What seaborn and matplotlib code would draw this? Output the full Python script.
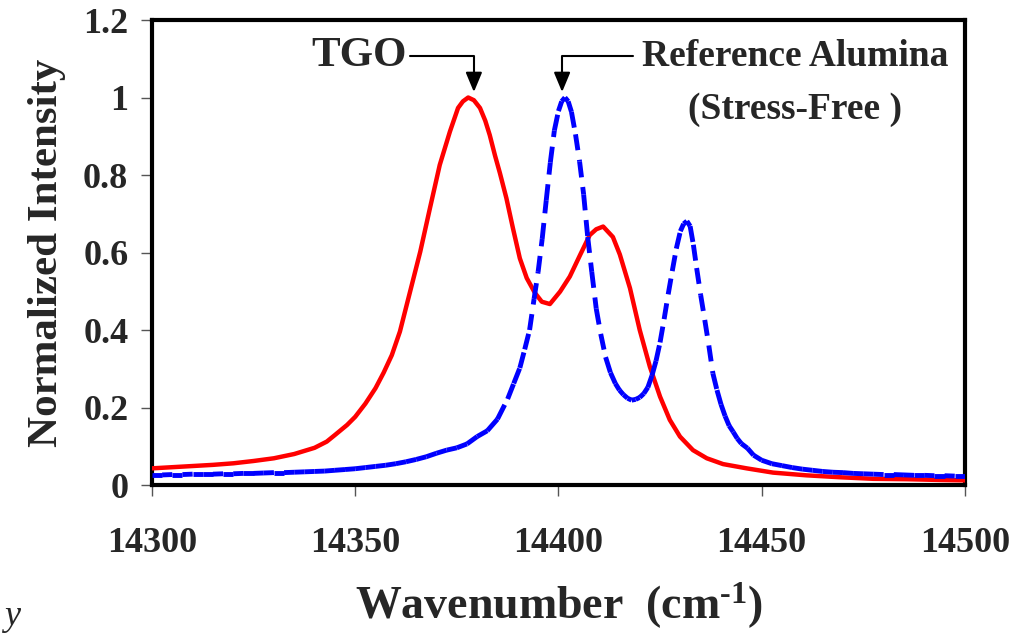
import matplotlib
matplotlib.use("Agg")
import matplotlib.pyplot as plt
import numpy as np
import pandas as pd
import seaborn as sns
from matplotlib.collections import LineCollection

# TGO spectrum (red, solid)
tgo_wavenumber = [
    14300, 14305, 14310, 14315, 14320, 14325, 14330, 14335, 14340, 14343,
    14345, 14348, 14350, 14352.5, 14355, 14357, 14359, 14361, 14363.5, 14366,
    14368.4, 14370.8, 14373.3, 14375.3, 14376.5, 14377.8, 14379.2, 14380.7,
    14382, 14383.1, 14384.4, 14385.6, 14387.2, 14388.8, 14390.5, 14392.2,
    14394.2, 14395.9, 14397.9, 14400.4, 14402.8, 14405.3, 14407.7, 14409.3,
    14411, 14413.4, 14415.1, 14417.6, 14420, 14422.5, 14425, 14427.4,
    14429.9, 14433.1, 14436.5, 14440.5, 14446.3, 14452.8, 14461, 14469.3,
    14477.4, 14485.7, 14493.9, 14500,
]
tgo_intensity = [
    0.043, 0.046, 0.049, 0.052, 0.056, 0.062, 0.069, 0.080, 0.096, 0.112,
    0.129, 0.155, 0.176, 0.210, 0.250, 0.290, 0.335, 0.396, 0.499, 0.602,
    0.715, 0.826, 0.912, 0.973, 0.990, 1.000, 0.993, 0.973,
    0.940, 0.903, 0.850, 0.805, 0.740, 0.663, 0.585, 0.534,
    0.496, 0.473, 0.467, 0.499, 0.538, 0.593, 0.645, 0.660,
    0.667, 0.640, 0.595, 0.508, 0.400, 0.305, 0.228, 0.168,
    0.125, 0.090, 0.069, 0.054, 0.043, 0.032, 0.025, 0.020,
    0.016, 0.015, 0.013, 0.012,
]

# Reference alumina spectrum (blue, dashed)
ref_wavenumber = [
    14300, 14302.5, 14305, 14307.5, 14310, 14312.5, 14315, 14317.5, 14320,
    14322.5, 14325, 14327.5, 14330, 14332.5, 14335, 14337.5, 14340, 14342.5,
    14345, 14347.5, 14350, 14352.5, 14355, 14357.5, 14360, 14362.5, 14365,
    14367.5, 14370, 14372.5, 14375, 14377.5, 14380, 14382.5, 14385, 14387.5,
    14389, 14390.5, 14391.7, 14392.9, 14394, 14395, 14396, 14397, 14398,
    14399, 14400, 14400.8, 14401.6, 14402.4, 14403.2, 14404.2, 14405.2,
    14406.2, 14407.2, 14408.2, 14409.3, 14410.4, 14411.6, 14412.8, 14414,
    14415, 14416, 14417, 14418, 14419, 14420, 14421, 14422, 14423, 14424,
    14425, 14426, 14427, 14428, 14429, 14430, 14430.8, 14431.6, 14432.4,
    14433.2, 14434, 14435, 14436, 14437, 14438, 14439, 14440, 14441, 14442,
    14443, 14444, 14445, 14446.5, 14448, 14450, 14452.5, 14455, 14457.5,
    14460, 14462.5, 14465, 14467.5, 14470, 14472.5, 14475, 14477.5, 14480,
    14482.5, 14485, 14487.5, 14490, 14492.5, 14495, 14497.5, 14500,
]
ref_intensity = [
    0.026, 0.026, 0.027, 0.027, 0.028, 0.028, 0.028, 0.029, 0.029,
    0.030, 0.030, 0.031, 0.032, 0.032, 0.033, 0.034, 0.035, 0.036,
    0.038, 0.040, 0.042, 0.045, 0.048, 0.051, 0.055, 0.060, 0.066,
    0.073, 0.082, 0.090, 0.096, 0.106, 0.125, 0.140, 0.170, 0.222,
    0.262, 0.302, 0.350, 0.400, 0.480, 0.550, 0.635, 0.735, 0.832,
    0.915, 0.965, 0.990, 1.000, 0.990, 0.963, 0.905, 0.835,
    0.750, 0.640, 0.550, 0.455, 0.390, 0.330, 0.290, 0.262,
    0.245, 0.233, 0.224, 0.219, 0.221, 0.226, 0.236, 0.252, 0.282, 0.320,
    0.368, 0.428, 0.492, 0.552, 0.610, 0.655, 0.674, 0.681, 0.668,
    0.620, 0.560, 0.490, 0.426, 0.360, 0.288, 0.245, 0.208, 0.178, 0.153,
    0.137, 0.120, 0.107, 0.095, 0.077, 0.064, 0.055, 0.050, 0.045,
    0.041, 0.038, 0.035, 0.033, 0.032, 0.030, 0.029, 0.028, 0.027,
    0.027, 0.026, 0.025, 0.025, 0.024, 0.024, 0.023, 0.023,
]

x_ticks = [14300, 14350, 14400, 14450, 14500]
x_tick_labels = ["14300", "14350", "14400", "14450", "14500"]
y_ticks = [0, 0.2, 0.4, 0.6, 0.8, 1.0, 1.2]
y_tick_labels = ["0", "0.2", "0.4", "0.6", "0.8", "1", "1.2"]

sns.set_style("white")
plt.rcParams["font.family"] = ["Liberation Serif", "DejaVu Serif"]
plt.rcParams["font.weight"] = "bold"
plt.rcParams["mathtext.fontset"] = "custom"
plt.rcParams["mathtext.rm"] = "Liberation Serif:bold"
plt.rcParams["mathtext.bf"] = "Liberation Serif:bold"
plt.rcParams["mathtext.it"] = "Liberation Serif:bold:italic"

fig = plt.figure(figsize=(10.29, 6.35), dpi=100)
ax = fig.add_axes([0.1477, 0.2362, 0.79, 0.7323])

tgo = pd.DataFrame({"wavenumber": tgo_wavenumber, "intensity": tgo_intensity})
sns.lineplot(data=tgo, x="wavenumber", y="intensity", color="#ff0000",
             linewidth=3.2, ax=ax, zorder=3)

# Excel-style dashing: the dash pattern restarts on every segment,
# so the dense flat parts look solid and the steep parts look dashed
ref = np.column_stack([ref_wavenumber, ref_intensity])
segs = np.stack([ref[:-1], ref[1:]], axis=1)
lc = LineCollection(segs, colors="#0000ff", linewidths=3.5,
                    linestyles=[(0, (3.3, 2.0))], capstyle="butt", zorder=4)
ax.add_collection(lc)

ax.set_xlim(14300, 14500)
ax.set_ylim(0, 1.2)
ax.set_xticks(x_ticks)
ax.set_xticklabels(x_tick_labels)
ax.set_yticks(y_ticks)
ax.set_yticklabels(y_tick_labels)
ax.tick_params(axis="both", direction="out", length=8, width=1,
               color="#555555", labelsize=26, left=True, bottom=True)
ax.tick_params(axis="x", pad=22)
ax.tick_params(axis="y", pad=9)
for lab in ax.get_xticklabels() + ax.get_yticklabels():
    lab.set_fontweight("bold")
for sp in ax.spines.values():
    sp.set_visible(True)
    sp.set_color("black")
    sp.set_linewidth(3)

ax.set_xlabel(r"Wavenumber  (cm$^{\text{-1}}$)", fontsize=33,
              fontweight="bold", labelpad=15)
ax.set_ylabel("Normalized Intensity", fontsize=31, fontweight="bold",
              labelpad=12)

arrow = dict(arrowstyle="-|>,head_length=0.6,head_width=0.25",
             connectionstyle="angle,angleA=0,angleB=90,rad=0",
             color="black", lw=1.5, shrinkA=0, shrinkB=0, mutation_scale=20)
ax.annotate("", xy=(14379.2, 1.014), xytext=(14363.5, 1.106),
            arrowprops=arrow, annotation_clip=False)
ax.annotate("", xy=(14400.9, 1.014), xytext=(14418.3, 1.106),
            arrowprops=arrow, annotation_clip=False)
ax.text(14362.8, 1.106, "TGO", ha="right", va="center", fontsize=31,
        fontweight="bold")
ax.text(14458.2, 1.106, "Reference Alumina", ha="center", va="center",
        fontsize=27, fontweight="bold")
ax.text(14458.2, 0.968, "(Stress-Free )", ha="center", va="center",
        fontsize=27, fontweight="bold")

fig.text(0.004, 0.016, "y", fontsize=26, style="italic", fontweight="normal",
         ha="left", va="baseline")

fig.savefig("out.png", dpi=100)
